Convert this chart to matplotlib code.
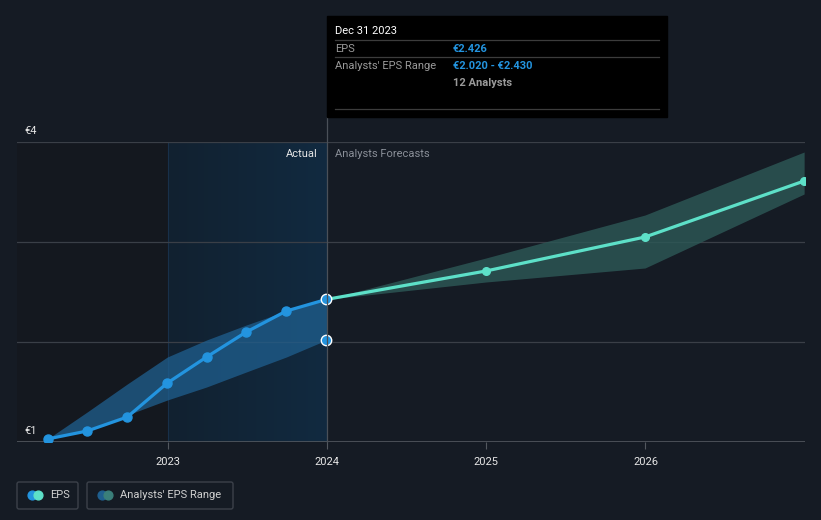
import numpy as np
import pandas as pd
import matplotlib
matplotlib.use('Agg')
import matplotlib.pyplot as plt
import matplotlib.dates as mdates
from matplotlib.patches import Rectangle, FancyBboxPatch

plt.rcParams['font.family'] = ['Roboto', 'DejaVu Sans']

# Data
hist_dates = ['2022-03-31', '2022-06-30', '2022-09-30', '2022-12-31',
              '2023-03-31', '2023-06-30', '2023-09-30', '2023-12-31']
hist_eps = [1.03, 1.11, 1.25, 1.59, 1.85, 2.10, 2.31, 2.426]
hist_low = [1.03, 1.12, 1.27, 1.42, 1.55, 1.70, 1.85, 2.02]
hist_high = [1.03, 1.30, 1.58, 1.85, 2.02, 2.17, 2.31, 2.43]

fc_dates = ['2023-12-31', '2024-12-31', '2025-12-31', '2026-12-31']
fc_eps = [2.426, 2.71, 3.05, 3.61]
fc_low = [2.426, 2.60, 2.74, 3.48]
fc_high = [2.426, 2.84, 3.27, 3.90]

year_ticks = ['2023', '2024', '2025', '2026']
y_labels = {4: '€4', 1: '€1'}

bg = '#151b24'
blue = '#2394df'
teal = '#5de0c8'

hd = pd.to_datetime(hist_dates)
fd = pd.to_datetime(fc_dates)
xmin, xmax = pd.Timestamp('2022-01-20'), pd.Timestamp('2027-01-02')

fig = plt.figure(figsize=(8.21, 5.2), dpi=100, facecolor=bg)
ax = fig.add_axes([17 / 821, 78 / 520, 788 / 821, 300 / 520])
ax.set_facecolor(bg)
ax.set_xlim(xmin, xmax)
ax.set_ylim(1, 4)

# shaded "actual" region
t2023 = pd.Timestamp('2023-01-01')
ax.axvspan(xmin, t2023, color='#14181f', zorder=0, lw=0)
grad = np.linspace(0, 1, 100).reshape(1, -1)
ax.imshow(grad, extent=[mdates.date2num(t2023), mdates.date2num(hd[-1]), 1, 4],
          aspect='auto', cmap=matplotlib.colors.LinearSegmentedColormap.from_list('g', ['#122130', '#112a40']),
          zorder=0.5)
ax.axvline(t2023, color='#18304a', lw=0.8, zorder=0.6)

for v in [2, 3, 4]:
    ax.axhline(v, color='#3a3f47', lw=0.9, zorder=1)
ax.axhline(1, color='#53585f', lw=1.2, zorder=1)

# ranges
ax.fill_between(hd, hist_low, hist_high, color='#1f5f8f', alpha=0.75, lw=0, zorder=2)
ax.fill_between(fd, fc_low, fc_high, color='#2d5957', alpha=0.8, lw=0, zorder=2)

# EPS lines
ax.plot(hd, hist_eps, color=blue, lw=2.3, marker='o', ms=6.5, zorder=4)
ax.plot(fd, fc_eps, color=teal, lw=2.3, marker='o', ms=5.5, zorder=4)
ax.plot([hd[-1]], [hist_eps[-1]], 'o', color=blue, ms=7.5, mec='white', mew=1, zorder=5)
ax.plot([hd[-1]], [hist_low[-1]], 'o', color=blue, ms=7.5, mec='white', mew=1, zorder=5)

ax.set_xticks(pd.to_datetime([y + '-01-01' for y in year_ticks]))
ax.set_xticklabels(year_ticks, color='#e6e6e6', fontsize=8)
ax.tick_params(axis='x', length=5, color='#53585f', pad=6)
ax.set_yticks([])
for s in ax.spines.values():
    s.set_visible(False)

# overlay in pixel coordinates for annotations
ov = fig.add_axes([0, 0, 1, 1], facecolor='none')
ov.set_xlim(0, 821)
ov.set_ylim(520, 0)
ov.axis('off')

ov.plot([327, 327], [117, 442], color='#4a5058', lw=0.9)
for v, lab in y_labels.items():
    ov.text(24, 442 - (v - 1) * 100 - 11, lab, color='#e6e6e6', fontsize=8, va='center')
ov.text(318, 154, 'Actual', color='#e6e6e6', fontsize=8, ha='right', va='center')
ov.text(335, 154, 'Analysts Forecasts', color='#8a8f98', fontsize=8, va='center')

# tooltip
ov.add_patch(Rectangle((327, 16), 340, 101, color='black', zorder=6))
for y in [40, 57, 109]:
    ov.plot([335, 659], [y, y], color='#3c3c3c', lw=0.9, zorder=7)
ov.text(335, 31, 'Dec 31 2023', color='white', fontsize=8, va='center', zorder=8)
ov.text(335, 49, 'EPS', color='#9a9a9a', fontsize=8, va='center', zorder=8)
ov.text(453, 49, '€2.426', color=blue, fontsize=8, va='center', weight='bold', zorder=8)
ov.text(335, 66, "Analysts' EPS Range", color='#9a9a9a', fontsize=8, va='center', zorder=8)
ov.text(453, 66, '€2.020 - €2.430', color=blue, fontsize=8, va='center', weight='bold', zorder=8)
ov.text(453, 83, '12 Analysts', color='#9a9a9a', fontsize=8, va='center', weight='bold', zorder=8)

# legend
ov.add_patch(FancyBboxPatch((17, 482), 61, 27, boxstyle='round,pad=0,rounding_size=2',
                            fc='none', ec='#3c414a', lw=1))
ov.add_patch(FancyBboxPatch((87, 482), 146, 27, boxstyle='round,pad=0,rounding_size=2',
                            fc='none', ec='#3c414a', lw=1))
ov.scatter([32], [495], s=40, color=blue, zorder=3)
ov.scatter([38], [495], s=40, color=teal, zorder=4)
ov.scatter([102], [495], s=40, color='#1f5f8f', zorder=3)
ov.scatter([108], [495], s=40, color='#3a7f7a', zorder=4)
ov.text(50, 495, 'EPS', color='#d0d0d0', fontsize=8, va='center')
ov.text(120, 495, "Analysts' EPS Range", color='#d0d0d0', fontsize=8, va='center')

fig.savefig('out.png', dpi=100, facecolor=bg)
